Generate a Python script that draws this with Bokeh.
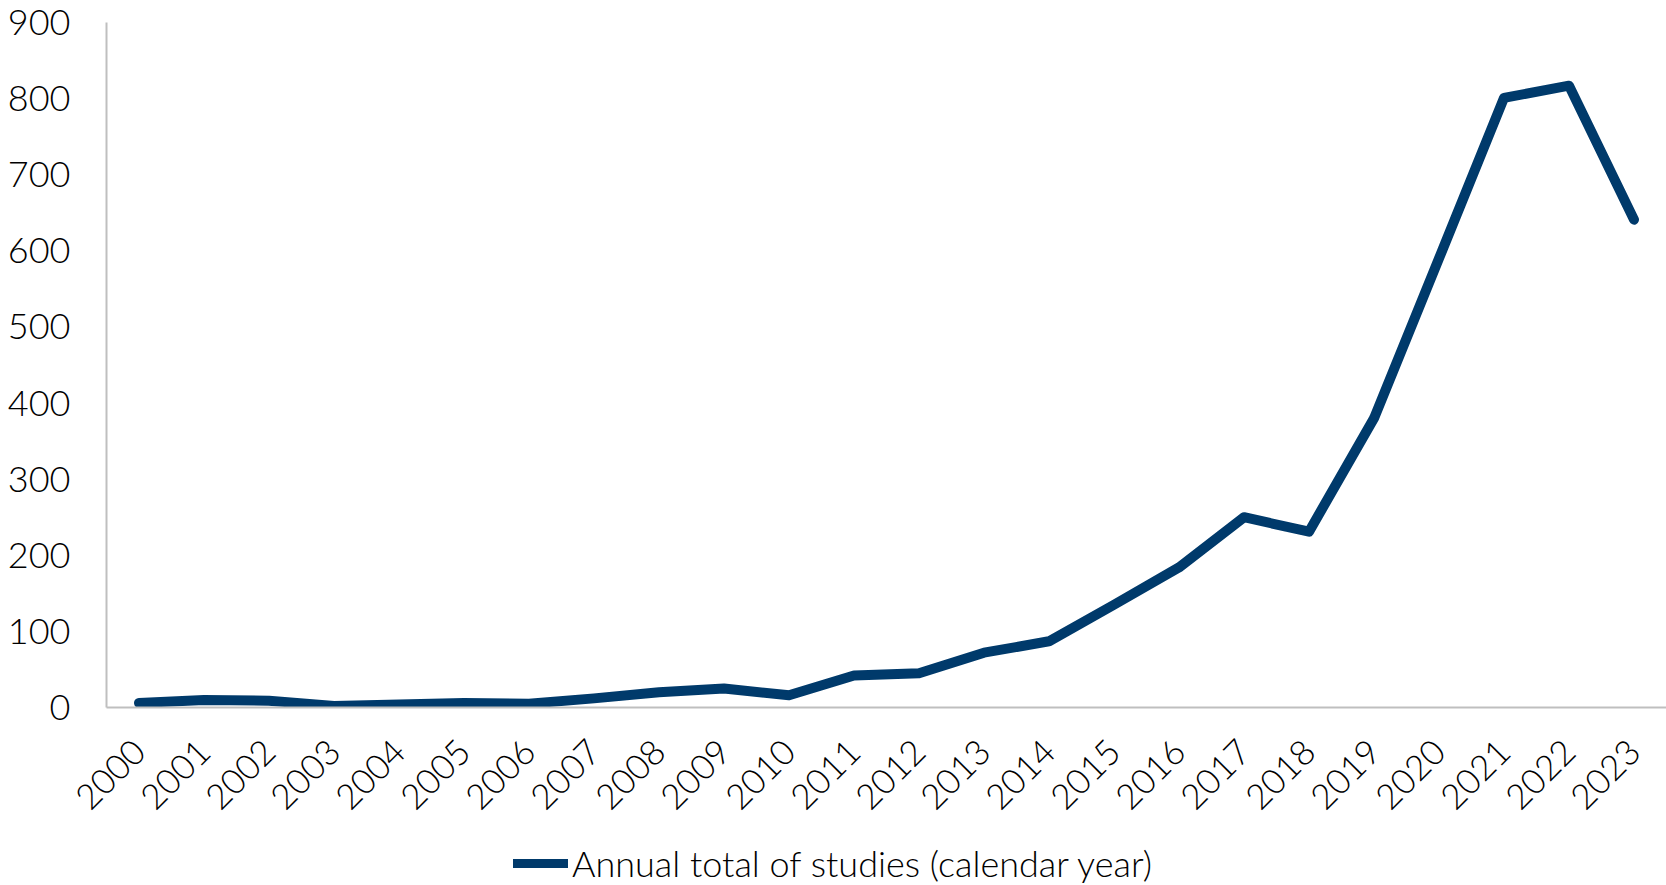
import math
from bokeh.plotting import figure
from bokeh.layouts import column
from bokeh.models import Legend, LegendItem, FactorRange, Range1d, FixedTicker
from bokeh.embed import file_html
from bokeh.resources import INLINE

years = [str(y) for y in range(2000, 2024)]
studies = [6, 10, 9, 2, 4, 6, 5, 12, 20, 25, 16, 42, 45, 72, 87, 135, 184, 250, 231, 380, 590, 801, 817, 641]
y_ticks = [0, 100, 200, 300, 400, 500, 600, 700, 800, 900]
legend_label = "Annual total of studies (calendar year)"

FONT = "Lato Light, Lato"
NAVY = "#003A6B"
GRAY = "#BFBFBF"

p = figure(width=1666, height=823,
           x_range=FactorRange(*years, range_padding=0),
           y_range=Range1d(0, 900), output_backend="svg", toolbar_location=None,
           min_border_left=106, min_border_right=0, min_border_top=22, min_border_bottom=0)
p.outline_line_color = None
p.xgrid.visible = False
p.ygrid.visible = False
p.background_fill_color = "white"
p.border_fill_color = "white"

r = p.line(years, studies, line_color=NAVY, line_width=10, line_join="round", line_cap="round")

p.yaxis.ticker = FixedTicker(ticks=y_ticks)
p.yaxis.axis_line_color = GRAY
p.yaxis.axis_line_width = 2
p.yaxis.major_tick_line_color = None
p.yaxis.minor_tick_line_color = None
p.yaxis.major_tick_out = 0
p.yaxis.major_label_standoff = 36
p.yaxis.major_label_text_font = FONT
p.yaxis.major_label_text_font_size = "36px"
p.yaxis.major_label_text_color = "#000000"

p.xaxis.axis_line_color = GRAY
p.xaxis.axis_line_width = 2
p.xaxis.major_tick_line_color = None
p.xaxis.major_tick_out = 0
p.xaxis.major_label_orientation = math.pi / 4
p.xaxis.major_label_standoff = 38
p.xaxis.major_label_text_font = FONT
p.xaxis.major_label_text_font_size = "35px"
p.xaxis.major_label_text_color = "#000000"

# legend strip below the chart (its own line sits outside the visible range)
lf = figure(width=1666, height=62, x_axis_type=None, y_axis_type=None,
            x_range=FactorRange(*years, range_padding=0), y_range=Range1d(2000, 2001),
            output_backend="svg", toolbar_location=None,
            min_border_left=0, min_border_right=0, min_border_top=0, min_border_bottom=0)
lf.outline_line_color = None
lf.background_fill_color = "white"
lf.border_fill_color = "white"
lr = lf.line(years, studies, line_color=NAVY, line_width=9, line_cap="round")

legend = Legend(items=[LegendItem(label=legend_label, renderers=[lr])],
                location=(407, 0), orientation="horizontal",
                label_text_font=FONT, label_text_font_size="36px", label_text_color="#000000",
                label_text_baseline="middle",
                glyph_width=55, glyph_height=20, label_standoff=4, label_height=40,
                border_line_color=None, background_fill_alpha=0, padding=0, margin=0)
lf.add_layout(legend, "center")

layout = column(p, lf, spacing=0)
open("out.html", "w").write(file_html(layout, INLINE))
